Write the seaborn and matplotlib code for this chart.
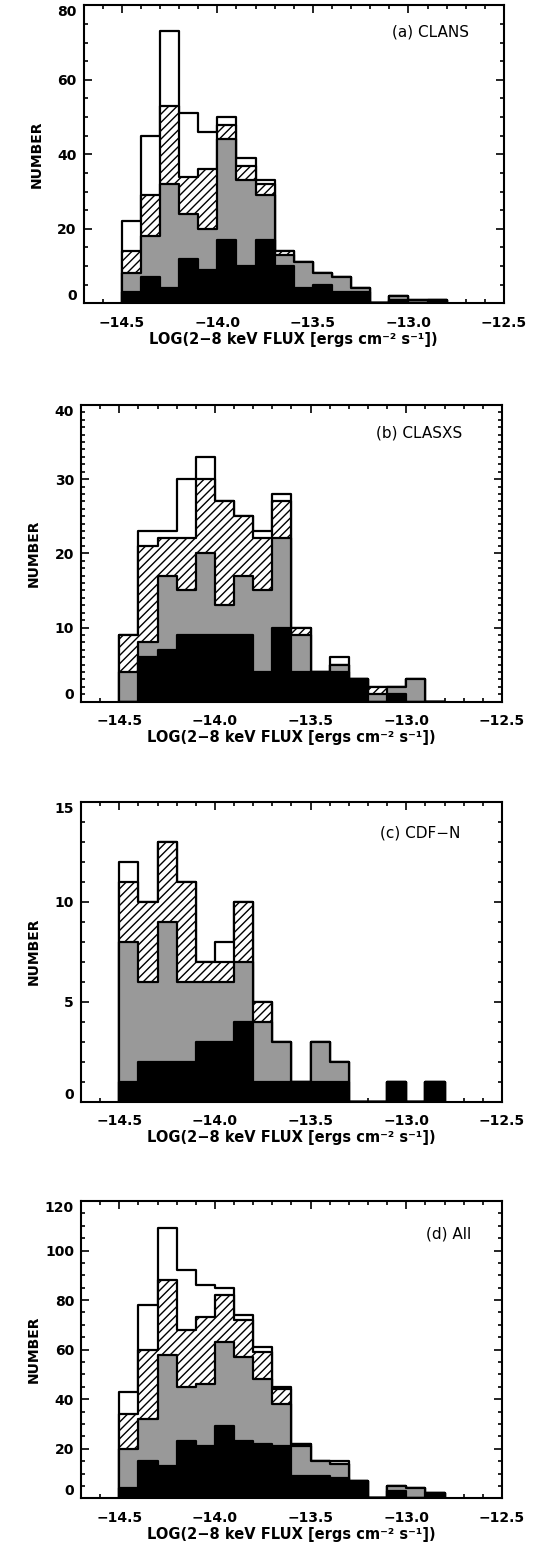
import numpy as np
import matplotlib
matplotlib.use("Agg")
import matplotlib.pyplot as plt
from matplotlib.ticker import MultipleLocator, FixedLocator
import seaborn as sns

# Histogram bin edges in log(2-8 keV flux)
flux_edges = [-14.5, -14.4, -14.3, -14.2, -14.1, -14.0, -13.9, -13.8, -13.7,
              -13.6, -13.5, -13.4, -13.3, -13.2, -13.1, -13.0, -12.9, -12.8]

# (a) CLANS
clans_all   = [22, 45, 73, 51, 46, 50, 39, 33, 14, 11, 8, 7, 4, 0, 2, 1, 1]
clans_hatch = [14, 29, 53, 34, 36, 48, 37, 32, 14, 11, 8, 7, 4, 0, 2, 1, 1]
clans_gray  = [8, 18, 32, 24, 20, 44, 33, 29, 13, 11, 8, 7, 4, 0, 2, 1, 1]
clans_black = [3, 7, 4, 12, 9, 17, 10, 17, 10, 4, 5, 3, 3, 0, 1, 0, 1]

# (b) CLASXS
clasxs_all   = [9, 23, 23, 30, 33, 27, 25, 23, 28, 10, 4, 6, 3, 2, 2, 3, 0]
clasxs_hatch = [9, 21, 22, 22, 30, 27, 25, 22, 27, 10, 4, 5, 3, 2, 2, 3, 0]
clasxs_gray  = [4, 8, 17, 15, 20, 13, 17, 15, 22, 9, 4, 5, 3, 1, 2, 3, 0]
clasxs_black = [0, 6, 7, 9, 9, 9, 9, 4, 10, 4, 4, 4, 3, 0, 1, 0, 0]

# (c) CDF-N
cdfn_all   = [12, 10, 13, 11, 7, 8, 10, 5, 3, 1, 3, 2, 0, 0, 1, 0, 1]
cdfn_hatch = [11, 10, 13, 11, 7, 7, 10, 5, 3, 1, 3, 2, 0, 0, 1, 0, 1]
cdfn_gray  = [8, 6, 9, 6, 6, 6, 7, 4, 3, 1, 3, 2, 0, 0, 1, 0, 1]
cdfn_black = [1, 2, 2, 2, 3, 3, 4, 1, 1, 1, 1, 1, 0, 0, 1, 0, 1]

# (d) All fields combined
all_all   = [43, 78, 109, 92, 86, 85, 74, 61, 45, 22, 15, 15, 7, 0, 5, 4, 2]
all_hatch = [34, 60, 88, 68, 73, 82, 72, 59, 44, 22, 15, 14, 7, 0, 5, 4, 2]
all_gray  = [20, 32, 58, 45, 46, 63, 57, 48, 38, 21, 15, 14, 7, 0, 5, 4, 2]
all_black = [4, 15, 13, 23, 21, 29, 23, 22, 21, 9, 9, 8, 7, 0, 3, 0, 2]

x_ticks = [-14.5, -14.0, -13.5, -13.0, -12.5]
x_tick_labels = ["\u221214.5", "\u221214.0", "\u221213.5", "\u221213.0", "\u221212.5"]
x_title = "LOG(2\u22128 keV FLUX [ergs cm\u207b\u00b2 s\u207b\u00b9])"
y_title = "NUMBER"

sns.set_style("ticks")
plt.rcParams["font.family"] = ["DejaVu Sans"]
plt.rcParams["font.weight"] = "bold"
plt.rcParams["hatch.linewidth"] = 1.0
plt.rcParams["axes.linewidth"] = 1.5
for key in ("text.color", "axes.labelcolor", "xtick.color", "ytick.color",
            "axes.edgecolor"):
    plt.rcParams[key] = "black"

centers = (np.array(flux_edges[:-1]) + np.array(flux_edges[1:])) / 2.0

# fill colour and hatch for the four overlaid histograms (drawn back to front)
layer_styles = [("white", None), ("white", "////"), ("#999999", None), ("black", None)]

panels = [
    dict(tag="(a) CLANS", layers=(clans_all, clans_hatch, clans_gray, clans_black),
         yticks=[0, 20, 40, 60, 80], yminor=5,
         rect=[0.1555, 0.8041, 0.783, 0.1924], tag_xy=(0.734, 0.911)),
    dict(tag="(b) CLASXS", layers=(clasxs_all, clasxs_hatch, clasxs_gray, clasxs_black),
         yticks=[0, 10, 20, 30, 40], yminor=1,
         rect=[0.1508, 0.5467, 0.784, 0.1917], tag_xy=(0.701, 0.906)),
    dict(tag="(c) CDF\u2212N", layers=(cdfn_all, cdfn_hatch, cdfn_gray, cdfn_black),
         yticks=[0, 5, 10, 15], yminor=1,
         rect=[0.1508, 0.2883, 0.784, 0.1938], tag_xy=(0.710, 0.895)),
    dict(tag="(d) All", layers=(all_all, all_hatch, all_gray, all_black),
         yticks=[0, 20, 40, 60, 80, 100, 120], yminor=5,
         rect=[0.1508, 0.0321, 0.784, 0.1921], tag_xy=(0.819, 0.889)),
]

fig = plt.figure(figsize=(5.37, 15.48), dpi=100)

for p in panels:
    ax = fig.add_axes(p["rect"])
    for counts, (fc, hatch) in zip(p["layers"], layer_styles):
        kws = dict(edgecolor="black", linewidth=1.6)
        if hatch:
            kws["hatch"] = hatch
        sns.histplot(x=centers, weights=counts, bins=flux_edges, element="step",
                     fill=True, color=fc, alpha=1, ax=ax, **kws)

    ax.set_xlim(-14.7, -12.5)
    ax.set_ylim(p["yticks"][0], p["yticks"][-1])
    ax.xaxis.set_major_locator(FixedLocator(x_ticks))
    ax.set_xticklabels(x_tick_labels)
    ax.xaxis.set_minor_locator(MultipleLocator(0.1))
    ax.set_yticks(p["yticks"])
    ax.set_yticklabels([str(v) for v in p["yticks"]])
    ax.yaxis.set_minor_locator(MultipleLocator(p["yminor"]))
    ax.tick_params(which="both", direction="in", top=True, right=True,
                   width=1.2, labelsize=10, color="black", labelcolor="black")
    ax.tick_params(which="major", length=6)
    ax.tick_params(which="minor", length=3)
    ax.tick_params(axis="x", which="major", pad=9)
    ax.tick_params(axis="y", which="major", pad=5)
    ylabels = ax.get_yticklabels()
    ylabels[0].set_va("bottom")
    ylabels[-1].set_va("top")

    ax.set_xlabel(x_title, fontsize=10.5, fontweight="bold", color="black")
    ax.xaxis.set_label_coords(0.5, -0.095)
    ax.set_ylabel(y_title, fontsize=10, fontweight="bold", color="black")
    ax.yaxis.set_label_coords(-0.095, 0.5)
    for s in ax.spines.values():
        s.set_linewidth(1.5)
        s.set_edgecolor("black")
        s.set_zorder(5)

    ax.text(p["tag_xy"][0], p["tag_xy"][1], p["tag"], transform=ax.transAxes,
            ha="left", va="center", fontsize=11, fontweight="normal", color="black")

fig.savefig("out.png", dpi=100)
